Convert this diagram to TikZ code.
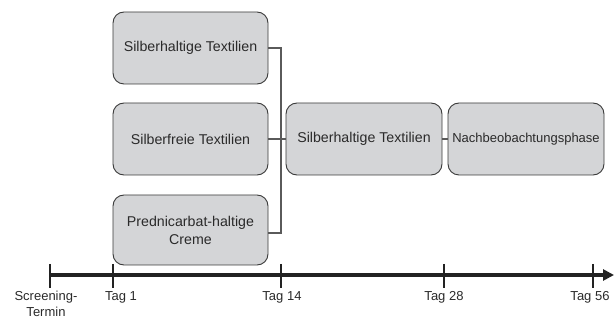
\documentclass[tikz,border=0pt]{standalone}
\usepackage{fontspec}
\setmainfont{Liberation Sans}
\usetikzlibrary{arrows.meta}
\definecolor{boxfill}{HTML}{D4D5D7}
\definecolor{boxdraw}{HTML}{3A3A3A}
\definecolor{txt}{HTML}{2A2A2A}
\definecolor{tl}{HTML}{222222}
\definecolor{brk}{HTML}{5A5A5A}
\begin{document}
\begin{tikzpicture}[x=1pt,y=-1pt,
  box/.style={draw=boxdraw,fill=boxfill,line width=0.9pt,rounded corners=11pt,
    minimum width=155pt,minimum height=72pt,inner sep=2pt,align=center,
    text=txt,font=\fontsize{14.2}{18}\selectfont},
  conn/.style={draw=brk,line width=1.1pt},
  tick/.style={draw=tl,line width=2.4pt},
  lbl/.style={text=txt,font=\fontsize{13}{16}\selectfont,inner sep=0pt,align=center,anchor=north}]
\useasboundingbox (0,0) rectangle (614,323);
\node[box] (b1) at (190.5,48) {Silberhaltige Textilien};
\node[box] (b2) at (190.5,139) {Silberfreie Textilien};
\node[box,minimum height=70pt] (b3) at (190.5,230) {Prednicarbat-haltige\\Creme};
\node[box,minimum width=156pt] (bm) at (364,139) {Silberhaltige Textilien};
\node[box,minimum width=156pt,font=\fontsize{13}{16}\selectfont] (b4) at (526,139) {Nachbeobachtungsphase};
\coordinate (bt) at (281,48);
\coordinate (bb) at (281,233);
\draw[conn] (b1.east) -- (bt) -- (bb) -- (b3.east |- bb);
\draw[conn] (b2.east) -- (bm.west);
\draw[conn] (bm.east) -- (b4.west);
% timeline
\coordinate (t0) at (50,275);
\coordinate (tE) at (614,275);
\draw[draw=tl,line width=3.8pt,-{Triangle[length=11pt,width=11pt]}] (t0) -- (tE);
\foreach \x/\n in {50/ts,113/t1,281/t14,444/t28,593/t56}{
  \coordinate (\n top) at (\x,264);
  \coordinate (\n) at (\x,288);
  \draw[tick] (\n top) -- (\n);
}
\node[lbl] (l0) at (46,291) {Screening-\\Termin};
\node[lbl] (l1) at (121,291) {Tag 1};
\node[lbl] (l14) at (282,291) {Tag 14};
\node[lbl] (l28) at (444,291) {Tag 28};
\node[lbl] (l56) at (590,291) {Tag 56};
\end{tikzpicture}
\end{document}
